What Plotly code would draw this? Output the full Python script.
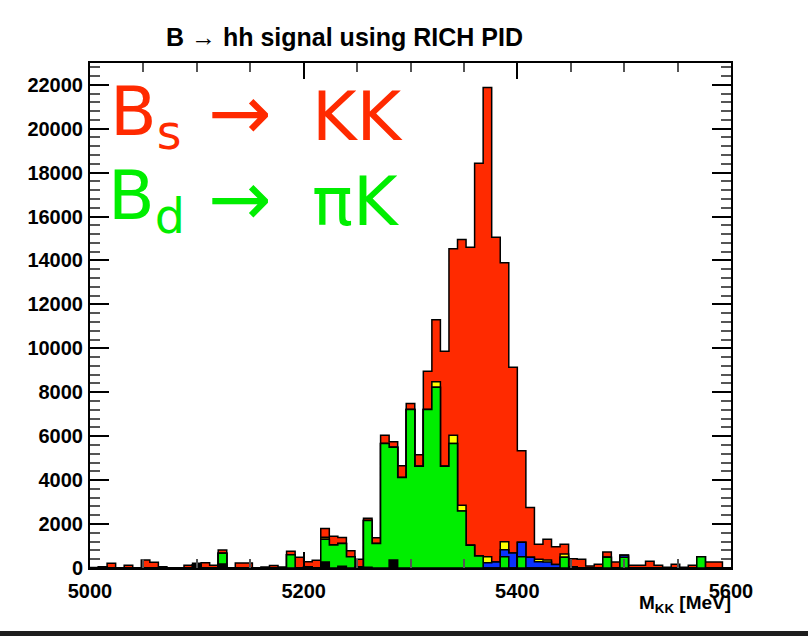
import numpy as np
import plotly.graph_objects as go

# ---- data (counts per 8 MeV bin, 5000-5600 MeV) ----
BIN_LOW = 5000
BIN_WIDTH = 8
NBINS = 75

black = [0, 50, 0, 0, 0, 0, 0, 0, 0, 0, 0, 0, 150, 0, 0, 180, 0, 0, 0, 0,
         0, 0, 0, 0, 0, 60, 0, 270, 0, 80, 0, 40, 30, 0, 0, 364, 0, 0, 0, 0,
         0, 0, 0, 0, 0, 0, 0, 0, 0, 0, 0, 0, 0, 0, 0, 0, 0, 0, 0, 0,
         0, 0, 0, 0, 0, 0, 0, 0, 0, 0, 0, 0, 0, 0, 0]
green = [0, 0, 0, 0, 0, 0, 0, 0, 0, 0, 0, 0, 0, 0, 0, 487, 0, 0, 0, 0,
         0, 0, 0, 600, 0, 0, 0, 1040, 1045, 1040, 515, 0, 2130, 1121, 5667, 5136, 4121, 7220, 4636, 7220,
         8230, 4636, 5667, 2600, 1030, 545, 0, 0, 515, 0, 515, 0, 0, 0, 0, 485, 0, 0, 0, 0,
         485, 0, 485, 0, 0, 0, 0, 0, 0, 0, 0, 515, 0, 0, 0]
blue = [0, 0, 0, 0, 0, 0, 0, 0, 0, 0, 0, 0, 0, 0, 0, 0, 0, 0, 0, 0,
        0, 0, 0, 0, 0, 0, 0, 0, 0, 0, 0, 0, 0, 0, 0, 0, 0, 0, 0, 0,
        0, 0, 0, 0, 0, 0, 242, 273, 315, 680, 652, 485, 280, 270, 160, 0, 60, 0, 0, 0,
        0, 0, 91, 0, 0, 0, 0, 0, 0, 0, 0, 0, 0, 0, 0]
yellow = [0, 0, 0, 0, 0, 0, 0, 0, 0, 0, 0, 0, 0, 0, 0, 0, 0, 0, 0, 0,
          0, 0, 0, 0, 0, 0, 0, 90, 0, 0, 0, 0, 0, 0, 0, 0, 0, 0, 0, 0,
          250, 0, 378, 256, 0, 0, 273, 0, 367, 0, 0, 0, 120, 90, 0, 151, 0, 0, 0, 0,
          0, 0, 0, 0, 0, 0, 0, 0, 0, 0, 0, 0, 0, 0, 0]
red = [20, 0, 220, 0, 130, 0, 360, 260, 60, 0, 0, 120, 62, 240, 120, 151, 0, 230, 230, 0,
       40, 110, 40, 160, 485, 220, 350, 400, 395, 274, 273, 360, 110, 258, 378, 242, 529, 265, 524, 1735,
       2823, 5228, 8487, 12099, 13576, 17878, 21364, 14788, 12697, 8456, 4166, 2273, 680, 950, 810, 440, 364, 394, 91, 167,
       242, 273, 0, 121, 121, 303, 121, 30, 167, 30, 121, 0, 273, 273, 0]

COL_RED = "#ff2a00"
COL_GREEN = "#00ee00"
COL_BLUE = "#0a32ff"
COL_YELLOW = "#ffff00"
COL_BLACK = "#000000"

edges = BIN_LOW + BIN_WIDTH * np.arange(NBINS + 1)
comps = [black, green, blue, yellow, red]
cols = [COL_BLACK, COL_GREEN, COL_BLUE, COL_YELLOW, COL_RED]
cums = np.cumsum(np.array(comps, dtype=float), axis=0)

fig = go.Figure()
# draw like a ROOT THStack: largest cumulative first
for k in range(len(comps) - 1, -1, -1):
    y = list(cums[k]) + [cums[k][-1]]
    fig.add_trace(go.Scatter(
        x=edges, y=y, mode="lines", line_shape="hv",
        line=dict(color="black", width=1.5),
        fill="tozeroy", fillcolor=cols[k], hoverinfo="skip", showlegend=False))

L, R, T, B = 90, 77, 63, 68
W, H = 808, 636
pw, ph = W - L - R, H - T - B

def px(x):
    return (x - L) / pw

def py(y):
    return (H - B - y) / ph

tickfont = dict(family="Liberation Sans, Arial", size=20, color="black", weight="bold")
fig.update_xaxes(range=[5000, 5600], showgrid=False, zeroline=False,
                 showline=True, linecolor="black", linewidth=2, mirror="ticks",
                 ticks="inside", ticklen=16, tickwidth=2, tickcolor="black",
                 tickvals=[5000, 5200, 5400, 5600], tickformat="d", tickfont=tickfont,
                 minor=dict(ticks="inside", ticklen=9, tickwidth=1.5, tickcolor="#555", dtick=50),
                 ticklabelstandoff=4)
fig.update_yaxes(range=[0, 22990], showgrid=False, zeroline=False,
                 showline=True, linecolor="black", linewidth=2, mirror="ticks",
                 ticks="inside", ticklen=19, tickwidth=2, tickcolor="black",
                 dtick=2000, tickformat="d", tickfont=tickfont,
                 minor=dict(ticks="inside", ticklen=10, tickwidth=1.5, tickcolor="#555", dtick=400),
                 ticklabelstandoff=1)

big = "DejaVu Sans"
ann = [
    dict(text="B<sub>s</sub>", x=px(108), y=py(116), color=COL_RED, xa="left", size=68),
    dict(text="→", x=px(240), y=py(113), color=COL_RED, xa="center", size=76),
    dict(text="KK", x=px(310), y=py(116), color=COL_RED, xa="left", size=68),
    dict(text="B<sub>d</sub>", x=px(106), y=py(200), color=COL_GREEN, xa="left", size=68),
    dict(text="→", x=px(240), y=py(198), color=COL_GREEN, xa="center", size=76),
    dict(text="πK", x=px(310), y=py(201), color=COL_GREEN, xa="left", size=68),
]
for a in ann:
    fig.add_annotation(text=a["text"], x=a["x"], y=a["y"], xref="paper", yref="paper",
                       xanchor=a["xa"], yanchor="middle", showarrow=False,
                       font=dict(family=big, size=a["size"], color=a["color"]))

fig.add_annotation(text="B → hh signal using RICH PID", x=px(344), y=py(37),
                   xref="paper", yref="paper", xanchor="center", yanchor="middle",
                   showarrow=False,
                   font=dict(family="Liberation Sans Narrow, Liberation Sans", size=25,
                             color="black", weight="bold"))
fig.add_annotation(text="M<sub>KK</sub> [MeV]", x=px(733), y=py(604),
                   xref="paper", yref="paper", xanchor="right", yanchor="middle",
                   showarrow=False,
                   font=dict(family="Liberation Sans, Arial", size=19, color="black", weight="bold"))

# dark strip at the bottom edge of the screenshot
fig.add_shape(type="rect", xref="paper", yref="paper", x0=px(0), x1=px(808),
              y0=py(636), y1=py(631), fillcolor="#1e1e1e", line=dict(width=0))

fig.update_layout(width=W, height=H, margin=dict(l=L, r=R, t=T, b=B),
                  paper_bgcolor="white", plot_bgcolor="white", showlegend=False)
fig.write_html("out.html")
